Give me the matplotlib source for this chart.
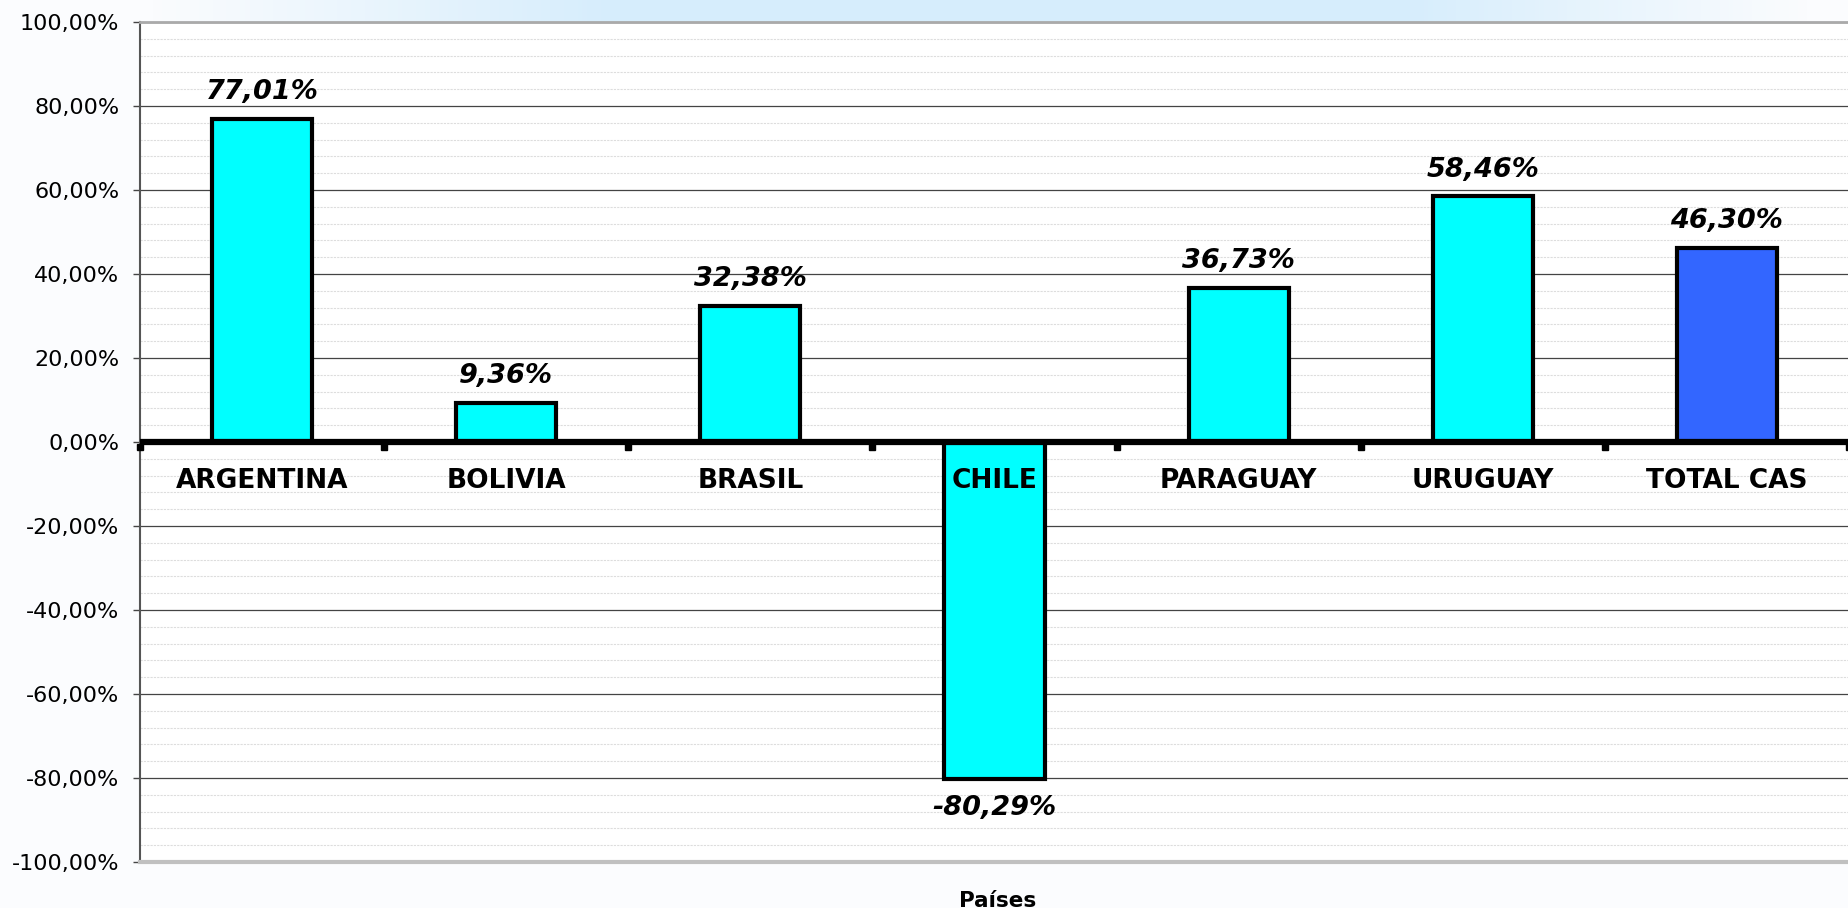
import numpy as np
import matplotlib
matplotlib.use("Agg")
import matplotlib.pyplot as plt
from matplotlib.ticker import MultipleLocator, FuncFormatter

# data
countries = ["ARGENTINA", "BOLIVIA", "BRASIL", "CHILE", "PARAGUAY", "URUGUAY", "TOTAL CAS"]
values = [77.01, 9.36, 32.38, -80.29, 36.73, 58.46, 46.30]
bar_colors = ["#00FFFF"] * 6 + ["#3366FF"]

# the reference text is wide, DejaVu fits it better than Arial
plt.rcParams["font.family"] = ["DejaVu Sans"]

fig = plt.figure(figsize=(18.49, 9.08), dpi=100)
fig.patch.set_facecolor("#fbfcfe")

# light blue band on top of the figure
band = fig.add_axes([0, 1 - 22 / 908, 1, 22 / 908], zorder=-5)
xs = np.linspace(0, 1, 400)
alpha = np.clip(np.minimum((xs - 0.08) / 0.25, (0.98 - xs) / 0.22), 0, 1)
grad = np.ones((1, 400, 4))
grad[..., 0] = 0.84
grad[..., 1] = 0.93
grad[..., 2] = 0.99
grad[..., 3] = alpha
band.imshow(grad, aspect="auto", extent=[0, 1, 0, 1])
band.axis("off")

ax = fig.add_axes([140 / 1849, 1 - 862 / 908, 1 - 140 / 1849, 840 / 908])
ax.set_facecolor("white")

x = np.arange(len(countries))
ax.bar(x, values, width=0.41, color=bar_colors, edgecolor="black", linewidth=3, zorder=3)

ax.set_xlim(-0.5, len(countries) - 0.5)
ax.set_ylim(-100, 100)

ax.yaxis.set_major_locator(MultipleLocator(20))
ax.yaxis.set_minor_locator(MultipleLocator(4))
ax.yaxis.set_major_formatter(FuncFormatter(lambda v, p: f"{v:.2f}%".replace(".", ",")))
ax.grid(which="major", axis="y", color="#444444", linewidth=0.9, zorder=0)
ax.grid(which="minor", axis="y", color="#dddddd", linewidth=0.8, linestyle=(0, (2, 1)), zorder=0)
ax.tick_params(axis="y", which="major", length=5, width=1, color="#444444", labelsize=16, pad=10)
ax.tick_params(axis="y", which="minor", length=0)
ax.set_xticks([])

ax.spines["right"].set_visible(False)
ax.spines["left"].set_color("#555555")
ax.spines["left"].set_linewidth(1.5)
ax.spines["top"].set_color("#aaaaaa")
ax.spines["top"].set_linewidth(2)
ax.spines["bottom"].set_color("#c0c0c0")
ax.spines["bottom"].set_linewidth(3)

# zero line with small category separators
ax.axhline(0, color="black", linewidth=4.5, zorder=4)
for b in np.arange(-0.5, len(countries), 1.0):
    ax.plot([b], [-1.3], marker="s", markersize=4.5, color="black", zorder=4, clip_on=False)

for i, name in enumerate(countries):
    ax.text(i, -10.95, name, ha="center", va="baseline", fontsize=19, fontweight="bold", zorder=5)

for i, v in enumerate(values):
    label = f"{v:.2f}%".replace(".", ",")
    if v >= 0:
        ax.annotate(label, (i, v), xytext=(0, 14.1), textcoords="offset points",
                    ha="center", va="baseline", fontsize=19.5, fontweight="bold", style="italic", zorder=5)
    else:
        ax.annotate(label, (i, v), xytext=(0, -11.5), textcoords="offset points",
                    ha="center", va="top", fontsize=19.5, fontweight="bold", style="italic", zorder=5)

fig.text(998 / 1849, 1 - 907 / 908, "Países", ha="center", va="baseline",
         fontsize=15.5, fontweight="bold")

fig.savefig("out.png", dpi=100, facecolor=fig.get_facecolor())
